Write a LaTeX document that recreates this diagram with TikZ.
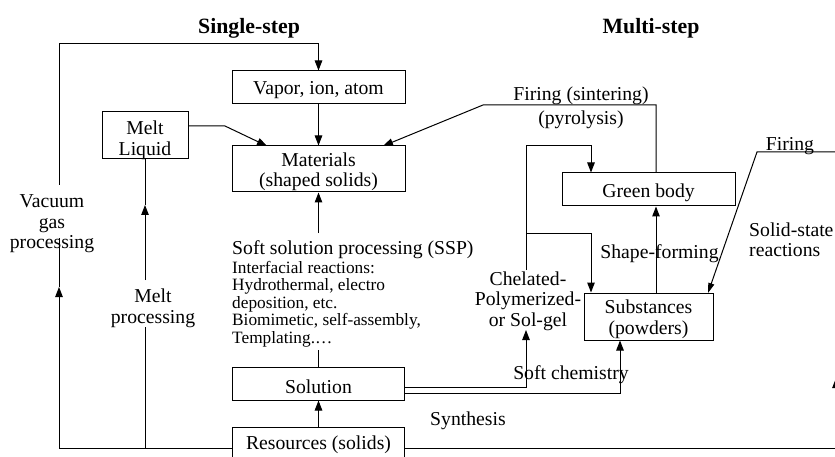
\documentclass[tikz,border=0pt]{standalone}
\usepackage{fontspec}
\setmainfont{Liberation Serif}
\usetikzlibrary{arrows.meta}
\begin{document}
\begin{tikzpicture}[x=1pt,y=-1pt,
  box/.style={draw, line width=1pt, inner sep=0pt},
  ln/.style={line width=1pt},
  arr/.style={ln, -{Triangle[length=10pt,width=7.5pt]}},
  arrn/.style={ln, -{Triangle[length=10pt,width=6pt]}},
  txt/.style={font=\fontsize{19.7}{20.5}\selectfont, inner sep=0pt, align=center, yshift=-3pt},
  sm/.style={font=\fontsize{17.3}{17.5}\selectfont, inner sep=0pt, anchor=base west, yshift=-1.5pt},
  ttl/.style={font=\fontsize{21.8}{22}\selectfont\bfseries, inner sep=0pt, yshift=-3pt}]
\useasboundingbox (0,0) rectangle (835,457);
\clip (0,0) rectangle (835,457);
\fill[white] (0,0) rectangle (835,457);

% boxes
\node[box, minimum width=173pt, minimum height=33pt] (vap) at (318.5,87.5) {};
\node[box, minimum width=173pt, minimum height=46pt] (mat) at (318.5,169) {};
\node[box, minimum width=86pt, minimum height=47pt] (melt) at (145,135.5) {};
\node[box, minimum width=172pt, minimum height=33pt] (sol) at (318.5,383.5) {};
\node[box, minimum width=172pt, minimum height=42pt] (res) at (318.5,448) {};
\node[box, minimum width=173pt, minimum height=33pt] (green) at (648.5,189.5) {};
\node[box, minimum width=129pt, minimum height=47pt] (subs) at (648.5,316.5) {};

% box texts
\node[txt] (vapT) at (vap.center) {Vapor, ion, atom};
\node[txt] (matT) at (mat.center) {Materials\\(shaped solids)};
\node[txt] (meltT) at (145,137.5) {Melt\\Liquid};
\node[txt] (solT) at (sol.center) {Solution};
\node[txt] (resT) at (318.5,442) {Resources (solids)};
\node[txt] (greenT) at (green.center) {Green body};
\node[txt] (subsT) at (subs.center) {Substances\\(powders)};

% labels
\node[ttl] (t1) at (249,25) {Single-step};
\node[ttl] (t2) at (651,25) {Multi-step};
\node[txt] (vac) at (52,221) {Vacuum\\gas\\processing};
\node[txt] (mp) at (153,305.5) {Melt\\processing};
\node[txt, anchor=base west, yshift=1.5pt] (ssp) at (232,253) {Soft solution processing (SSP)};
\node[sm] (s1) at (232,271.5) {Interfacial reactions:};
\node[sm] (s2) at (232,289) {Hydrothermal, electro};
\node[sm] (s3) at (232,306.5) {deposition, etc.};
\node[sm] (s4) at (232,324) {Biomimetic, self-assembly,};
\node[sm] (s5) at (232,341.5) {Templating.…};
\node[txt] (chel) at (528,298) {Chelated-\\Polymerized-\\or Sol-gel};
\node[txt] (softc) at (571,372) {Soft chemistry};
\node[txt] (synth) at (468,418) {Synthesis};
\node[txt] (shape) at (659.5,251) {Shape-forming};
\node[txt] (fs1) at (581,93) {Firing (sintering)};
\node[txt] (fs2) at (581,117) {(pyrolysis)};
\node[txt] (fr) at (790,143) {Firing};
\node[txt, align=left, anchor=west] (ssr) at (749,237) {Solid-state\\reactions};

% coordinates
\coordinate (vacTop) at (59,185);
\coordinate (topL) at (59,44);
\coordinate (vacBot) at (59,238);
\coordinate (vacArr) at (59,287);
\coordinate (c1) at (59,448);
\coordinate (mb) at (145,448);
\coordinate (mpBot) at (145,327);
\coordinate (mpTop) at (145,280);
\coordinate (mpArr) at (145,205);
\coordinate (m0) at (188,126);
\coordinate (m1) at (225,126);
\coordinate (matIn1) at (267,146);
\coordinate (matIn2) at (383,146);
\coordinate (gTop) at (656,173);
\coordinate (f2) at (656,105);
\coordinate (f1) at (483,105);
\coordinate (solUp) at (318.5,350);
\coordinate (matUp) at (318.5,233);
\coordinate (k0) at (404,387);
\coordinate (k1) at (526,387);
\coordinate (chelIn) at (526,330);
\coordinate (q0) at (404,393);
\coordinate (k2) at (620,393);
\coordinate (l1) at (526,270);
\coordinate (l2) at (526,146);
\coordinate (l3) at (591,146);
\coordinate (b1) at (526,233);
\coordinate (b2) at (591,233);
\coordinate (r1) at (836,448);
\coordinate (r2) at (836,378);
\coordinate (r3) at (836,152);
\coordinate (r4) at (757,152);
\coordinate (subsIn) at (708,293);

% connectors
\draw[arr] (vacTop) -- (topL) -| (vap.north);
\draw[arr] (c1) -- (vacArr);
\draw[ln] (vacArr) -- (vacBot);
\draw[ln] (c1) -- (res.west);
\draw[ln] (mb) -- (mpBot);
\draw[arr] (mpTop) -- (mpArr);
\draw[ln] (mpArr) -- (melt.south);
\draw[arr] (m0) -- (m1) -- (matIn1);
\draw[arr] (vap.south) -- (mat.north);
\draw[arr] (gTop) -- (f2) -- (f1) -- (matIn2);
\draw[ln] (sol.north) -- (solUp);
\draw[arr] (matUp) -- (mat.south);
\draw[arr] (res.north) -- (sol.south);
\draw[arr] (k0) -- (k1) -- (chelIn);
\draw[arr] (q0) -- (k2) -- (k2 |- subs.south);
\draw[arr] (l1) -- (l2) -- (l3) -- (l3 |- green.north);
\draw[arr] (b1) -- (b2) -- (b2 |- subs.north);
\draw[arr] (subs.north -| gTop) -- (green.south -| gTop);
\draw[arr] (res.east |- r1) -- (r1) -- (r2);
\draw[arrn] (r2) -- (r3) -- (r4) -- (subsIn);
\end{tikzpicture}
\end{document}
